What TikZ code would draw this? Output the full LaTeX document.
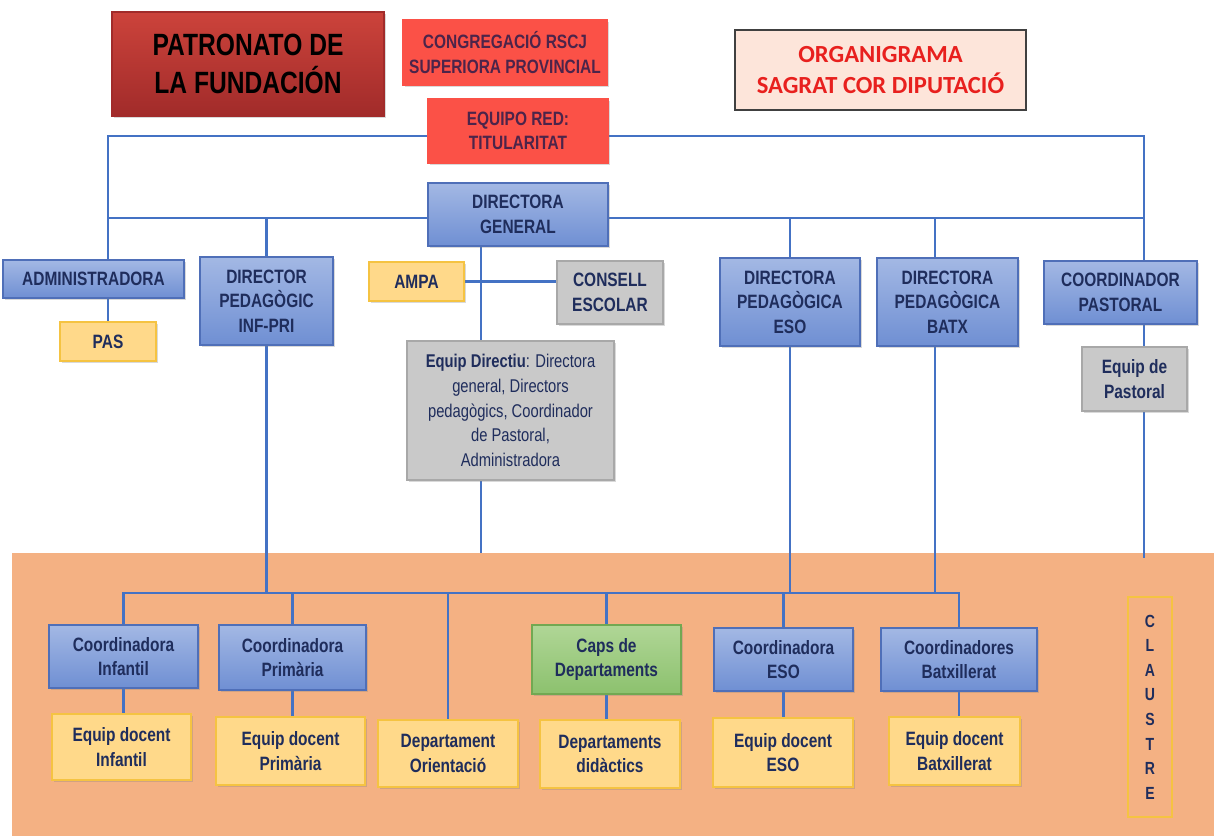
\documentclass[tikz,border=0pt]{standalone}
\usepackage{fontspec}
\newfontfamily\narrowsf{Liberation Sans}[FakeStretch=0.8]
\newfontfamily\calibsf{Carlito}
\usetikzlibrary{shadows}

\definecolor{navy}{HTML}{1F2D5C}
\definecolor{lineblue}{HTML}{4472C4}
\definecolor{blueA}{HTML}{A3B8E4}
\definecolor{blueB}{HTML}{6F8FD3}
\definecolor{blueedge}{HTML}{4F6FB8}
\definecolor{yelfill}{HTML}{FFD98A}
\definecolor{yeledge}{HTML}{F5C342}
\definecolor{grayfill}{HTML}{C9C9C9}
\definecolor{grayedge}{HTML}{A8A8A8}
\definecolor{greenA}{HTML}{B0D696}
\definecolor{greenB}{HTML}{8CC16E}
\definecolor{greenedge}{HTML}{72A852}
\definecolor{redfill}{HTML}{FB5147}
\definecolor{patA}{HTML}{CC433B}
\definecolor{patB}{HTML}{A12B2A}
\definecolor{orangebg}{HTML}{F4B183}
\definecolor{orgfill}{HTML}{FDE5DA}
\definecolor{orgtext}{HTML}{E8201E}

\pgfdeclarelayer{bg}
\pgfdeclarelayer{lines}
\pgfsetlayers{bg,lines,main}

\begin{document}
\begin{tikzpicture}[x=0.02cm, y=-0.02cm,
    sz/.style 2 args={minimum width=#1*0.02cm, minimum height=#2*0.02cm},
    base/.style={draw, line width=0.9pt, align=center, text=navy, inner sep=1pt,
        font=\narrowsf\bfseries\fontsize{11}{14}\selectfont,
        drop shadow={shadow xshift=1.2pt, shadow yshift=-1.2pt, opacity=0.3}},
    bluebox/.style={base, draw=blueedge, top color=blueA, bottom color=blueB},
    yelbox/.style={base, draw=yeledge, fill=yelfill},
    graybox/.style={base, draw=grayedge, fill=grayfill},
    greenbox/.style={base, draw=greenedge, top color=greenA, bottom color=greenB},
    redbox/.style={base, draw=redfill, fill=redfill, text=navy!80!red},
    conn/.style={draw=lineblue, line width=1.4pt}]
    \useasboundingbox (0,0) rectangle (1214,836);

    % top row
    \node[base, sz={272}{104}, draw=patB, top color=patA, bottom color=patB, text=black,
        font=\narrowsf\bfseries\fontsize{17.5}{22}\selectfont] (pat) at (248,64) {PATRONATO DE\\LA FUNDACI\'ON};
    \node[redbox, sz={204}{65}] (cong) at (505,52.5) {CONGREGACI\'O RSCJ\\SUPERIORA PROVINCIAL};
    \node[draw=black!75, line width=1pt, fill=orgfill, text=orgtext, sz={291}{80}, align=center,
        font=\calibsf\bfseries\fontsize{14}{18}\selectfont] (org) at (880.5,70) {ORGANIGRAMA\\SAGRAT COR DIPUTACI\'O};
    \node[redbox, sz={180}{64}] (red) at (518,131) {EQUIPO RED:\\TITULARITAT};
    \node[bluebox, sz={180}{63}] (dg) at (518,214.5) {DIRECTORA\\GENERAL};

    % second level
    \node[bluebox, sz={181}{38}] (adm) at (93.5,279) {ADMINISTRADORA};
    \node[yelbox, sz={96}{39}] (pas) at (108,341.5) {PAS};
    \node[bluebox, sz={133}{88}] (dped) at (266.5,301) {DIRECTOR\\PEDAG\`OGIC\\INF-PRI};
    \node[yelbox, sz={95}{39}] (ampa) at (416.5,281.5) {AMPA};
    \node[graybox, sz={106}{63}] (consell) at (610,292.5) {CONSELL\\ESCOLAR};
    \node[graybox, sz={207}{139}, font=\narrowsf\fontsize{10.5}{14}\selectfont] (edir) at (510.5,410.5)
        {\textbf{Equip Directiu}: Directora\\general, Directors\\pedag\`ogics, Coordinador\\de Pastoral,\\Administradora};
    \node[bluebox, sz={140}{88}] (deso) at (790,302) {DIRECTORA\\PEDAG\`OGICA\\ESO};
    \node[bluebox, sz={141}{88}] (dbatx) at (947.5,302) {DIRECTORA\\PEDAG\`OGICA\\BATX};
    \node[bluebox, sz={153}{63}] (cpast) at (1120.5,292.5) {COORDINADOR\\PASTORAL};
    \node[graybox, sz={105}{64}] (epast) at (1134.5,379) {Equip de\\Pastoral};

    % claustre
    \begin{pgfonlayer}{bg}
        \fill[orangebg] (12,553) rectangle (1214,836);
    \end{pgfonlayer}
    \node[bluebox, sz={149}{63}] (cinf) at (123.5,656.5) {Coordinadora\\Infantil};
    \node[bluebox, sz={147}{65}] (cprim) at (292.5,657.5) {Coordinadora\\Prim\`aria};
    \node[greenbox, sz={149}{69}] (caps) at (606.5,659.5) {Caps de\\Departaments};
    \node[bluebox, sz={139}{63}] (ceso) at (783.5,659.5) {Coordinadora\\ESO};
    \node[bluebox, sz={156}{63}] (cbatx) at (959,659.5) {Coordinadores\\Batxillerat};
    \node[yelbox, sz={139}{66}] (einf) at (121.5,747) {Equip docent\\Infantil};
    \node[yelbox, sz={149}{68}] (eprim) at (290.5,751) {Equip docent\\Prim\`aria};
    \node[yelbox, sz={140}{67}] (dori) at (448,753.5) {Departament\\Orientaci\'o};
    \node[yelbox, sz={140}{68}] (ddid) at (610,754) {Departaments\\did\`actics};
    \node[yelbox, sz={140}{69}] (eeso) at (783,752.5) {Equip docent\\ESO};
    \node[yelbox, sz={131}{68}] (ebatx) at (954.5,751) {Equip docent\\Batxillerat};
    \node[draw=yeledge, line width=1.2pt, sz={44}{220}, align=center, text=navy,
        font=\narrowsf\bfseries\fontsize{10}{14}\selectfont] (claus) at (1150,707)
        {C\\L\\A\\U\\S\\T\\R\\E};

    \coordinate (tl) at (108,136);
    \coordinate (tr) at (1144,136);
    \coordinate (ml) at (108,218);
    \coordinate (mr) at (1144,218);
    \coordinate (cb) at (1144,558);
    \coordinate (bx) at (935,218);
    \coordinate (eb) at (481,553);
    \coordinate (bl) at (0,593);

    \begin{pgfonlayer}{lines}
        \draw[conn] (adm.north -| tl) -- (tl) -- (tr) -- (cb);
        \draw[conn] (ml) -- (mr);
        \draw[conn] (adm.south -| tl) -- (pas.north -| tl);
        \draw[conn] (dped.north |- ml) -- (dped.north);
        \draw[conn] (deso.north |- ml) -- (deso.north);
        \draw[conn] (bx) -- (bx |- dbatx.north);
        \draw[conn] (dg.south -| eb) -- (edir.north -| eb);
        \draw[conn] (edir.south -| eb) -- (eb);
        \draw[conn] (ampa.east) -- (consell.west |- ampa.east);
        \draw[conn] (dped.south) -- (dped.south |- bl);
        \draw[conn] (deso.south) -- (deso.south |- bl);
        \draw[conn] (bx |- dbatx.south) -- (bx |- bl);
        \draw[conn] (cinf.north) -- (cinf.north |- bl) -- (cbatx.north |- bl) -- (cbatx.north);
        \foreach \n in {cprim, dori, caps, ceso}
            \draw[conn] (\n.north |- bl) -- (\n.north);
        \draw[conn] (cinf.south) -- (cinf.south |- einf.north);
        \draw[conn] (cprim.south) -- (cprim.south |- eprim.north);
        \draw[conn] (caps.south) -- (caps.south |- ddid.north);
        \draw[conn] (ceso.south) -- (ceso.south |- eeso.north);
        \draw[conn] (cbatx.south) -- (cbatx.south |- ebatx.north);
    \end{pgfonlayer}
\end{tikzpicture}
\end{document}
